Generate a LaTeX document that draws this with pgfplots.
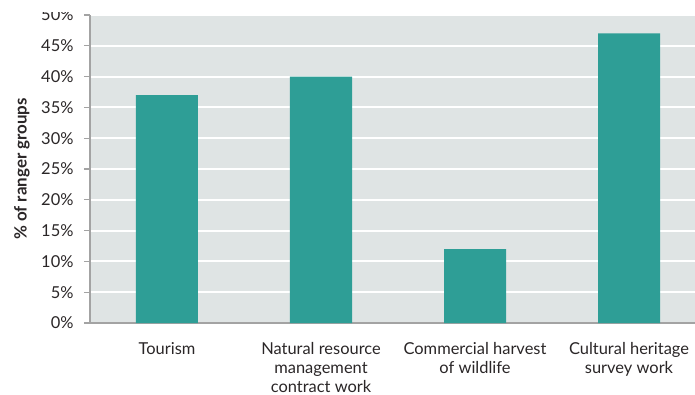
\documentclass[border=0pt]{standalone}
\usepackage{pgfplots}
\pgfplotsset{compat=1.18}
\usepackage{fontspec}
\setmainfont{Lato}
\definecolor{bg}{HTML}{DFE4E4}
\definecolor{barc}{HTML}{2E9E96}
\definecolor{axgray}{HTML}{A3A3A3}
\definecolor{txt}{HTML}{2A2627}
\begin{document}
\begin{tikzpicture}
\useasboundingbox (-90bp,-72bp) rectangle (605bp,323bp);
\begin{scope}
\clip (-90bp,-72bp) rectangle (605bp,310bp);
\begin{axis}[
  at={(0,0)}, anchor=south west,
  scale only axis, width=616bp, height=308bp,
  xmin=-0.5, xmax=3.5, ymin=0, ymax=50,
  axis background/.style={fill=bg},
  axis x line*=bottom, axis y line*=left,
  axis line style={axgray, line width=1.5bp},
  ytick={0,5,...,50},
  yticklabel={\pgfmathprintnumber{\tick}\%},
  /pgf/number format/assume math mode=true,
  ymajorgrids, grid style={white, line width=2bp},
  tick align=outside, major tick length=6bp,
  tick style={axgray, line width=1.2bp},
  xtick={0,1,2,3},
  xticklabels={Tourism, Natural resource\\management\\contract work, Commercial harvest\\of wildlife, Cultural heritage\\survey work},
  x tick style={draw=none},
  extra x ticks={-0.5,0.5,1.5,2.5},
  extra x tick labels={},
  extra x tick style={tick style={draw=axgray, line width=1.2bp}},
  ticklabel style={font=\fontsize{16.5}{19}\selectfont, text=txt},
  xticklabel style={align=center, yshift=-10bp},
  yticklabel style={xshift=-7bp},
  ylabel={\% of ranger groups},
  ylabel style={font=\fontsize{17}{20}\selectfont\bfseries, text=txt, at={(axis description cs:0,0.5)}, anchor=center, yshift=68bp},
]
\addplot[ybar, bar width=62bp, fill=barc, draw=none] coordinates {(0,37) (1,40) (2,12) (3,47)};
\end{axis}
\end{scope}
\end{tikzpicture}
\end{document}
